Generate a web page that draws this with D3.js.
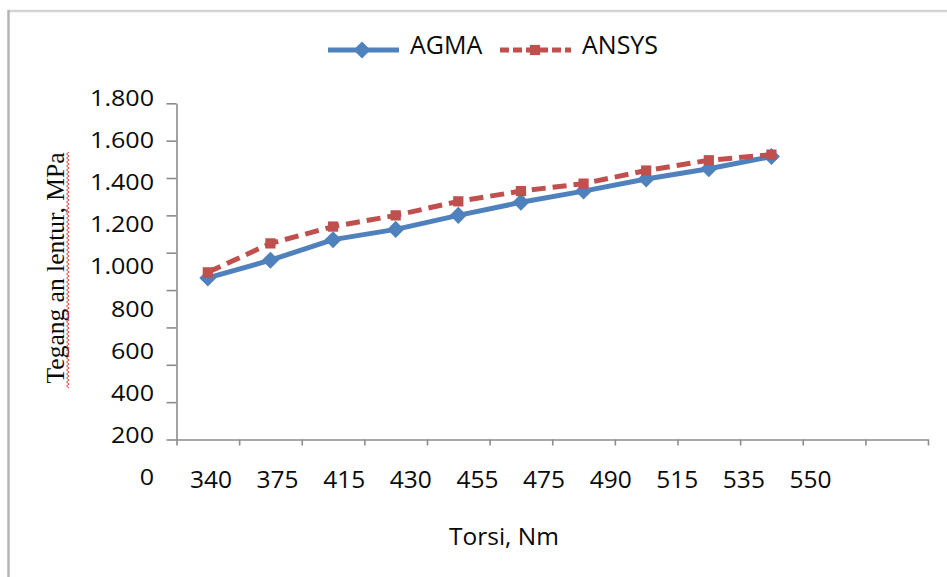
<!DOCTYPE html>
<html><head><meta charset="utf-8">
<script src="https://cdn.jsdelivr.net/npm/d3@7"></script>
<style>body{margin:0;background:#fff;overflow:hidden}</style>
</head><body><svg id="c" width="947" height="577"></svg>
<script>
// ---- data ----
const torsi = ["340","375","415","430","455","475","490","515","535","550"];
const agma  = [865, 960, 1070, 1125, 1200, 1270, 1330, 1395, 1450, 1515];
const ansys = [895, 1050, 1140, 1200, 1275, 1330, 1370, 1440, 1495, 1525];
const yTickValues = [0, 200, 400, 600, 800, 1000, 1200, 1400, 1600, 1800];
const seriesNames = ["AGMA", "ANSYS"];
const slotCount = 12;
const xTitle = "Torsi, Nm";
const yTitle = "Tegang an lentur, MPa";

// ---- setup ----
const svg = d3.select("#c");
const FONT = "'Open Sans', 'Liberation Sans', sans-serif";
const blue = "#4f81bd", red = "#c0504d", axisCol = "#8c8c8c", ink = "#0a0a0a";
const loc = d3.formatLocale({decimal: ",", thousands: ".", grouping: [3], currency: ["", ""]});
const fmt = loc.format(",");

// frame
svg.append("line").attr("x1", 8).attr("x2", 947).attr("y1", 11).attr("y2", 11)
  .attr("stroke", "#d4d4d4").attr("stroke-width", 2.5);
svg.append("line").attr("x1", 8.5).attr("x2", 8.5).attr("y1", 10).attr("y2", 577)
  .attr("stroke", "#b4b4b4").attr("stroke-width", 2.5);

// scales
const x = d3.scaleLinear().domain([0, slotCount]).range([176.5, 928]);
const y = d3.scaleLinear().domain([0, 1800]).range([439.5, 103.3]);
const xLab = d3.scalePoint().domain(torsi).range([211, 810.5]);
const yLab = d3.scaleLinear().domain([0, 1800]).range([485, 106]);

// y axis
const gy = svg.append("g").attr("transform", "translate(176.5,0)")
  .call(d3.axisLeft(y).tickValues(yTickValues).tickFormat("").tickSize(10).tickSizeOuter(0));
gy.selectAll("path,line").attr("stroke", axisCol).attr("stroke-width", 1.6);

// x axis
const gx = svg.append("g").attr("transform", "translate(0,439.5)")
  .call(d3.axisBottom(x).tickValues(d3.range(0, slotCount + 1)).tickFormat("").tickSize(6).tickSizeOuter(0));
gx.selectAll("path,line").attr("stroke", axisCol).attr("stroke-width", 1.6);

// y tick labels (slightly stretched like the source)
svg.append("g").selectAll("text").data(yTickValues).join("text")
  .attr("transform", d => `translate(154,${yLab(d)}) scale(1.14,1)`)
  .attr("text-anchor", "end")
  .attr("font-family", FONT).attr("font-size", 22).attr("fill", ink)
  .text(d => fmt(d));

// x tick labels
svg.append("g").selectAll("text").data(torsi).join("text")
  .attr("x", d => xLab(d)).attr("y", 488)
  .attr("text-anchor", "middle")
  .attr("font-family", FONT).attr("font-size", 24.5).attr("fill", ink)
  .text(d => d);

// titles
svg.append("text").attr("x", 504).attr("y", 545).attr("text-anchor", "middle")
  .attr("font-family", FONT).attr("font-size", 24.5).attr("fill", ink).text(xTitle);

svg.append("text").attr("transform", "translate(64,268) rotate(-90)")
  .attr("text-anchor", "middle")
  .attr("font-family", "'Liberation Serif', 'DejaVu Serif', serif").attr("font-size", 25.5)
  .attr("fill", ink).text(yTitle);

// spell-check squiggle
const sq = d3.path();
d3.range(388, 150, -2).forEach((yy, i) => {
  const xx = i % 2 ? 66.5 : 69;
  if (i === 0) sq.moveTo(xx, yy); else sq.lineTo(xx, yy);
});
svg.append("path").attr("d", sq.toString()).attr("fill", "none")
  .attr("stroke", "#ff2020").attr("stroke-width", 0.9);

// series
const cx = (d, i) => x(i + 0.5);
const line = d3.line().x((d, i) => cx(d, i)).y(d => y(d));
const diamond = d3.symbol().type(d3.symbolSquare).size(145);
const square = d3.symbol().type(d3.symbolSquare).size(105);

svg.append("path").datum(agma).attr("d", line).attr("fill", "none")
  .attr("stroke", blue).attr("stroke-width", 5).attr("stroke-linejoin", "round");
svg.append("g").selectAll("path").data(agma).join("path")
  .attr("d", diamond)
  .attr("transform", (d, i) => `translate(${cx(d, i)},${y(d)}) rotate(45)`)
  .attr("fill", blue);

svg.append("path").datum(ansys).attr("d", line).attr("fill", "none")
  .attr("stroke", red).attr("stroke-width", 5).attr("stroke-dasharray", "14,7");
svg.append("g").selectAll("path").data(ansys).join("path")
  .attr("d", square)
  .attr("transform", (d, i) => `translate(${cx(d, i)},${y(d)})`)
  .attr("fill", red);

// legend
const legX = [328, 500];
const leg = svg.append("g").selectAll("g").data(seriesNames).join("g")
  .attr("transform", (d, i) => `translate(${legX[i]},50)`);
leg.append("line").attr("x1", 0).attr("x2", 71).attr("y1", 0).attr("y2", 0)
  .attr("stroke", (d, i) => i ? red : blue).attr("stroke-width", 5)
  .attr("stroke-dasharray", (d, i) => i ? "9,4" : null);
leg.append("path")
  .attr("d", (d, i) => i ? square() : diamond())
  .attr("transform", (d, i) => i ? "translate(35,0)" : "translate(34,0) rotate(45)")
  .attr("fill", (d, i) => i ? red : blue);
leg.append("text").attr("x", 82).attr("y", 3.5)
  .attr("font-family", FONT).attr("font-size", 25).attr("fill", ink)
  .text(d => d);
</script></body></html>
